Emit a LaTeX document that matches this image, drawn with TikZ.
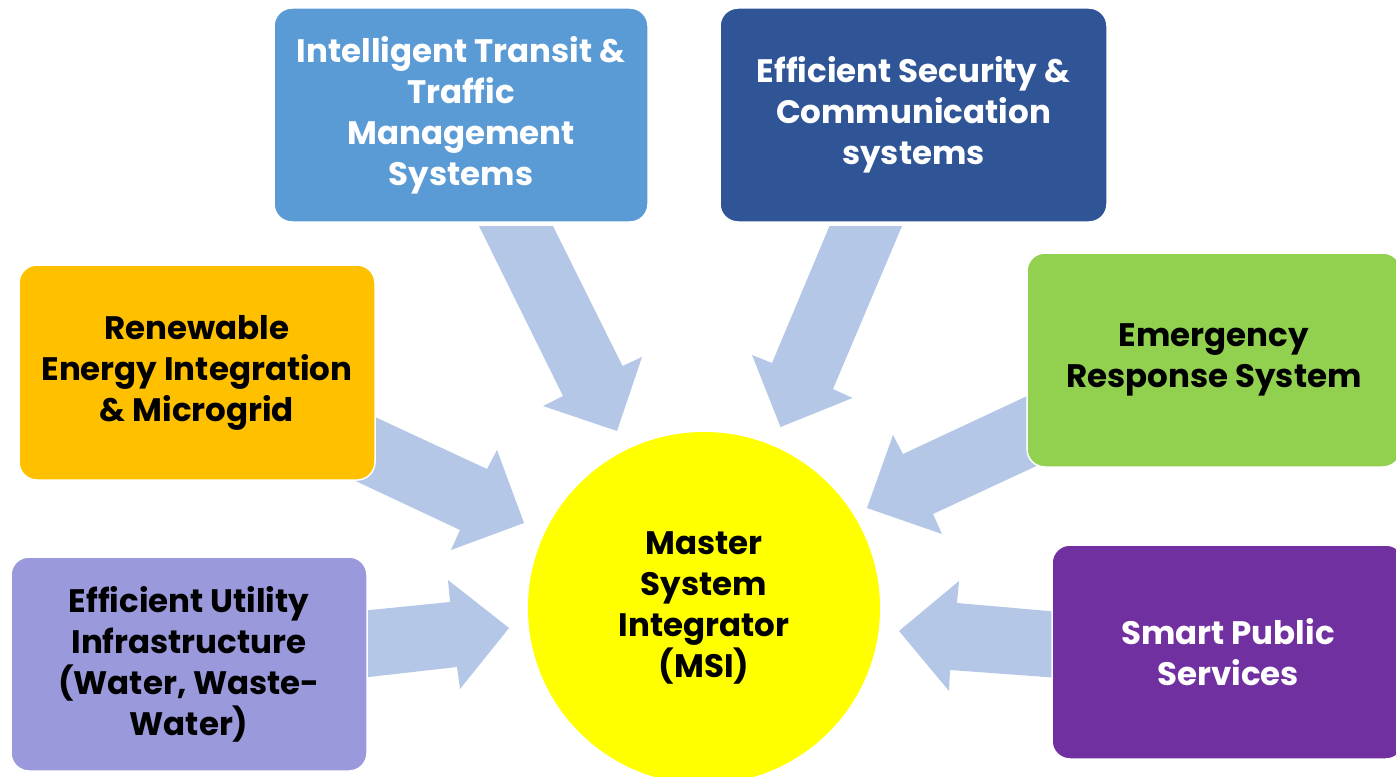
\documentclass[tikz,border=0pt]{standalone}
\usepackage{fontspec}
\newfontfamily\pf{Poppins Bold}
\definecolor{arrowc}{HTML}{B4C7E7}
\definecolor{transitc}{HTML}{5B9BD5}
\definecolor{securityc}{HTML}{2F5597}
\definecolor{renewc}{HTML}{FFC000}
\definecolor{emergc}{HTML}{92D050}
\definecolor{utilc}{HTML}{9999DC}
\definecolor{smartc}{HTML}{7030A0}
\definecolor{msic}{HTML}{FFFF00}
\tikzset{
  box/.style={draw=white, line width=1.5pt, rounded corners=18pt, align=center,
    inner sep=0pt, font=\pf\fontsize{32.5}{41}\selectfont},
  blockarrow/.style={fill=arrowc, draw=none},
}
\begin{document}
\begin{tikzpicture}[x=1pt,y=-1pt]
\useasboundingbox (0,0) rectangle (1396,776);
\fill[white] (0,0) rectangle (1396,776);
% block arrows
\fill[blockarrow] (479,226) -- (553,226) -- (622.5,366) -- (642,357) -- (617,431) -- (543,406) -- (563,396) -- cycle;
\fill[blockarrow] (829.5,226) -- (902,226) -- (833,389) -- (852.5,398) -- (780.5,427) -- (752,355) -- (772,363) -- cycle;
\fill[blockarrow] (360,410) -- (487,469) -- (497,450) -- (524,523) -- (451,550) -- (460,530) -- (345,476) -- cycle;
\fill[blockarrow] (1040,390) -- (903,454) -- (893,435) -- (867,508) -- (942,534) -- (933,514) -- (1045,462) -- cycle;
\fill[blockarrow] (360,611) -- (450,602) -- (448,580) -- (509,628) -- (460,689) -- (457,667) -- (360,678) -- cycle;
\fill[blockarrow] (1060,612) -- (957,603) -- (959,581) -- (899,631) -- (949,691) -- (950,670) -- (1060,678) -- cycle;
% boxes
\node[box, fill=transitc, text=white, minimum width=374pt, minimum height=214pt] (transit) at (461,115)
  {Intelligent Transit \&\\Traffic\\Management\\Systems};
\node[box, fill=securityc, text=white, minimum width=387pt, minimum height=214pt] (security) at (913.5,115)
  {Efficient Security \&\\Communication\\systems};
\node[box, fill=renewc, text=black, minimum width=356pt, minimum height=215pt] (renew) at (197,372.5)
  {Renewable\\Energy Integration\\\& Microgrid};
\node[box, fill=emergc, text=black, minimum width=374pt, minimum height=214pt] (emerg) at (1214,360)
  {Emergency\\Response System};
\node[box, fill=utilc, text=black, minimum width=356pt, minimum height=214pt] (util) at (189,664)
  {Efficient Utility\\Infrastructure\\(Water, Waste-\\Water)};
\node[box, fill=smartc, text=white, minimum width=352pt, minimum height=214pt] (smart) at (1228,652)
  {Smart Public\\Services};
% centre
\node[circle, fill=msic, draw=none, minimum size=352pt, inner sep=0pt, align=center,
  font=\pf\fontsize{32.5}{41}\selectfont] (msi) at (704,608)
  {Master\\System\\Integrator\\(MSI)};
\end{tikzpicture}
\end{document}
